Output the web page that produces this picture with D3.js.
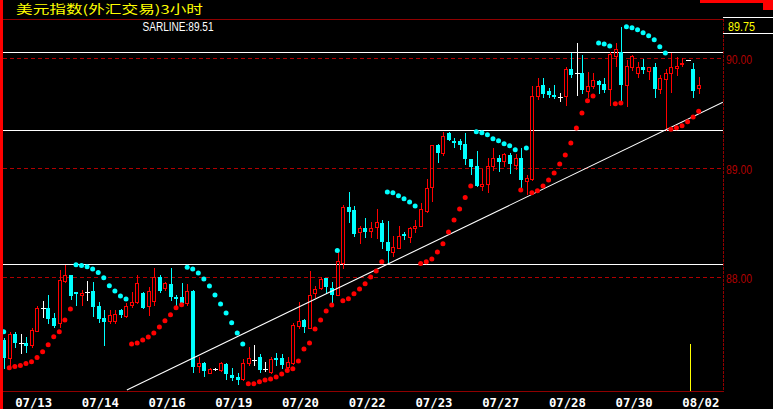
<!DOCTYPE html>
<html><head><meta charset="utf-8">
<script src="https://cdn.jsdelivr.net/npm/d3@7"></script>
<style>html,body{margin:0;padding:0;background:#000;overflow:hidden}</style>
</head><body><svg id="c" width="773" height="409"></svg>
<script>
// ---- data (3-hour bars) ----
const open = [
87.425,87.264,87.480,87.395,87.401,87.380,87.510,87.717,87.717,87.626,
87.580,87.964,88.019,87.863,87.833,87.866,87.873,87.738,87.629,87.598,
87.598,87.699,87.647,87.745,87.774,87.857,87.735,87.784,88.000,87.897,
87.936,87.820,87.820,87.760,87.873,87.191,87.212,87.126,87.160,87.151,
87.206,87.105,87.090,87.069,87.218,87.243,87.273,87.157,87.136,87.258,
87.264,87.182,87.212,87.556,87.608,87.537,87.852,87.897,87.989,87.897,
87.836,88.125,88.637,88.612,88.414,88.445,88.423,88.454,88.491,88.317,
88.231,88.262,88.390,88.368,88.445,88.469,88.606,88.825,89.206,89.130,
89.313,89.242,89.245,89.215,89.078,89.014,88.831,88.847,89.014,89.084,
89.062,89.115,89.023,89.084,88.880,88.892,89.653,89.754,89.699,89.662,
89.647,89.656,89.900,89.860,89.860,89.701,89.744,89.790,89.763,89.714,
90.021,90.052,89.754,89.921,89.866,89.921,89.884,89.921,89.717,89.806,
89.860,89.906,89.945,89.982,89.897,89.724];
const high = [
87.444,87.501,87.498,87.480,87.453,87.535,87.735,87.781,87.836,87.671,
88.064,88.110,88.019,87.863,87.882,87.964,87.957,87.774,87.699,87.699,
87.699,87.708,87.763,87.866,88.019,87.866,87.912,88.083,88.019,87.957,
88.080,87.836,87.946,87.936,87.882,87.273,87.227,87.167,87.165,87.227,
87.218,87.167,87.126,87.249,87.364,87.380,87.297,87.227,87.273,87.304,
87.297,87.273,87.577,87.769,87.614,88.055,87.918,88.003,87.994,87.957,
88.231,88.658,88.774,88.649,88.466,88.536,88.505,88.619,88.521,88.514,
88.375,88.466,88.414,88.459,88.521,88.679,88.895,89.206,89.215,89.327,
89.327,89.267,89.258,89.318,89.078,89.154,88.984,89.084,89.176,89.115,
89.136,89.136,89.124,89.176,88.932,89.744,89.817,89.815,89.724,89.754,
89.678,89.921,90.049,90.140,90.027,89.875,89.860,89.799,89.815,90.058,
90.134,90.280,89.982,90.027,89.967,89.988,89.921,89.957,89.845,89.897,
90.049,90.006,89.997,89.985,89.957,89.824];
const low = [
87.170,87.170,87.361,87.307,87.316,87.361,87.507,87.635,87.580,87.544,
87.544,87.955,87.799,87.745,87.745,87.790,87.644,87.589,87.380,87.580,
87.583,87.638,87.638,87.729,87.763,87.714,87.653,87.745,87.866,87.882,
87.790,87.745,87.745,87.745,87.136,87.136,87.096,87.121,87.155,87.144,
87.069,87.060,87.020,87.060,87.197,87.197,87.136,87.144,87.126,87.197,
87.167,87.167,87.203,87.532,87.501,87.537,87.820,87.891,87.852,87.754,
87.836,88.080,88.505,88.375,88.314,88.368,88.368,88.354,88.262,88.125,
88.192,88.262,88.345,88.323,88.414,88.466,88.597,88.697,89.053,89.115,
89.251,89.190,89.167,89.032,88.941,88.831,88.795,88.779,88.978,88.971,
89.014,88.953,88.984,88.810,88.758,88.886,89.623,89.641,89.647,89.632,
89.607,89.571,89.824,89.662,89.683,89.647,89.724,89.678,89.693,89.571,
89.927,89.601,89.564,89.890,89.824,89.860,89.806,89.647,89.678,89.343,
89.693,89.845,89.927,89.978,89.647,89.678];
const close = [
87.264,87.477,87.398,87.395,87.370,87.517,87.717,87.717,87.617,87.553,
87.973,88.019,87.827,87.845,87.857,87.866,87.729,87.617,87.592,87.653,
87.662,87.653,87.735,87.774,87.943,87.720,87.875,87.998,87.875,87.943,
87.820,87.799,87.760,87.873,87.182,87.215,87.142,87.160,87.160,87.218,
87.115,87.075,87.060,87.212,87.258,87.243,87.151,87.157,87.249,87.243,
87.197,87.221,87.562,87.598,87.546,87.836,87.891,87.982,87.912,87.836,
88.146,88.637,88.597,88.393,88.445,88.414,88.445,88.505,88.323,88.241,
88.271,88.375,88.375,88.450,88.466,88.619,88.810,89.206,89.135,89.288,
89.251,89.227,89.206,89.078,89.008,88.831,88.850,89.017,89.084,89.053,
89.124,89.032,89.084,88.886,88.907,89.653,89.744,89.671,89.662,89.641,
89.647,89.900,89.845,89.860,89.708,89.744,89.799,89.754,89.708,90.034,
90.080,89.754,89.927,90.018,89.921,89.890,89.921,89.717,89.815,89.860,
89.915,89.927,89.957,89.982,89.701,89.754];
const sar = [
87.501,87.172,87.182,87.191,87.209,87.227,87.264,87.318,87.382,87.455,
87.501,87.608,87.708,88.113,88.104,88.094,88.073,88.040,87.994,87.921,
87.873,87.827,87.799,87.388,87.398,87.425,87.453,87.489,87.544,87.601,
87.656,87.720,87.747,88.089,88.073,88.037,87.982,87.918,87.836,87.754,
87.671,87.583,87.489,87.388,87.026,87.026,87.044,87.060,87.069,87.087,
87.115,87.145,87.163,87.233,87.343,87.398,87.526,87.608,87.690,87.745,
88.241,87.784,87.802,87.848,87.891,87.939,88.000,88.055,88.140,88.777,
88.770,88.743,88.715,88.685,88.649,88.124,88.140,88.165,88.229,88.304,
88.411,88.521,88.621,88.725,88.831,89.327,89.318,89.300,89.263,89.245,
89.218,89.199,89.163,88.795,89.178,88.770,88.788,88.831,88.886,88.950,
89.032,89.115,89.224,89.361,89.498,89.610,89.653,90.137,90.128,90.110,
89.583,89.589,90.286,90.277,90.258,90.231,90.204,90.167,90.103,90.046,
89.349,89.364,89.382,89.418,89.461,89.514];
const dateLabels = ["07/13","07/14","07/16","07/19","07/20","07/22","07/23","07/27","07/28","07/30","08/02"];
const gridPrices = [88, 89, 90];
const levelPrices = [90.055, 89.343, 88.119];
const trendLine = [[22.1, 86.968], [129.3, 89.596]];
const titleText = "美元指数(外汇交易)3小时";

// ---- drawing ----
const W = 773, H = 409;
const P = {l: 3, r: 723, t: 19, b: 391};
const RED = "#ff0000", CYAN = "#00ffff", DRED = "#b00000", FRAME = "#900000";
const svg = d3.select("#c");
const x = d3.scaleLinear().domain([0, open.length - 1]).range([4, 699]);
const y = d3.scaleLinear().domain([88, 90]).range([277, 58]);

svg.append("rect").attr("width", W).attr("height", H).attr("fill", "#000");
svg.append("defs").append("clipPath").attr("id", "clip")
  .append("rect").attr("x", P.l).attr("y", P.t).attr("width", P.r - P.l).attr("height", P.b - P.t);

const crisp = svg.append("g").attr("shape-rendering", "crispEdges");
// outer decorations
crisp.append("rect").attr("x", 0).attr("y", 0).attr("width", 3).attr("height", H).attr("fill", RED);
crisp.append("rect").attr("x", 700).attr("y", 0).attr("width", 73).attr("height", 3).attr("fill", RED);
crisp.append("rect").attr("x", 763).attr("y", 0).attr("width", 10).attr("height", 10).attr("fill", RED);
// frame
crisp.append("line").attr("x1", P.l).attr("x2", P.r).attr("y1", P.t + 0.5).attr("y2", P.t + 0.5).attr("stroke", FRAME);
crisp.append("line").attr("x1", P.l).attr("x2", P.r).attr("y1", P.b + 0.5).attr("y2", P.b + 0.5).attr("stroke", FRAME);
crisp.append("line").attr("x1", P.r + 0.5).attr("x2", P.r + 0.5).attr("y1", P.t).attr("y2", P.b + 1)
  .attr("stroke", FRAME).attr("stroke-dasharray", "3,1");

// grid lines + right labels
gridPrices.forEach(p => {
  const yy = Math.round(y(p)) + 0.5;
  crisp.append("line").attr("x1", P.l).attr("x2", P.r).attr("y1", yy).attr("y2", yy)
    .attr("stroke", DRED).attr("stroke-dasharray", "4,3");
  svg.append("text").attr("x", 726).attr("y", yy + 5.5).attr("fill", DRED)
    .attr("font-family", "Liberation Sans, Arial, sans-serif").attr("font-size", 13)
    .attr("textLength", 26).attr("lengthAdjust", "spacingAndGlyphs").text(p.toFixed(2));
});

// last-price box
crisp.append("line").attr("x1", P.r).attr("x2", W).attr("y1", 17.5).attr("y2", 17.5).attr("stroke", "#fff");
crisp.append("line").attr("x1", P.r).attr("x2", W).attr("y1", 33.5).attr("y2", 33.5).attr("stroke", "#fff");
svg.append("text").attr("x", 728).attr("y", 30.5).attr("fill", "#ffff00")
  .attr("font-family", "Liberation Sans, Arial, sans-serif").attr("font-size", 13)
  .attr("textLength", 27).attr("lengthAdjust", "spacingAndGlyphs").text(close[close.length - 1].toFixed(2));

const plot = svg.append("g").attr("clip-path", "url(#clip)");
const pc = plot.append("g").attr("shape-rendering", "crispEdges");

// horizontal white levels
levelPrices.forEach(p => {
  const yy = Math.round(y(p)) + 0.5;
  pc.append("line").attr("x1", P.l).attr("x2", P.r).attr("y1", yy).attr("y2", yy).attr("stroke", "#fff");
});
// trend line
plot.append("line")
  .attr("x1", x(trendLine[0][0])).attr("y1", y(trendLine[0][1]))
  .attr("x2", x(trendLine[1][0])).attr("y2", y(trendLine[1][1]))
  .attr("stroke", "#fff").attr("stroke-width", 1.1);

// candles
function vline(cx, a, b, col) {
  pc.append("line").attr("x1", cx + 0.5).attr("x2", cx + 0.5).attr("y1", a).attr("y2", b + 1).attr("stroke", col);
}
open.forEach((o, i) => {
  const c = close[i];
  const cx = Math.round(x(i));
  const yh = Math.round(y(high[i])), yl = Math.round(y(low[i]));
  const yt = Math.round(y(Math.max(o, c))), yb = Math.round(y(Math.min(o, c)));
  if (c > o) {
    if (yt > yh) vline(cx, yh, yt - 1, RED);
    if (yl > yb) vline(cx, yb + 1, yl, RED);
    pc.append("rect").attr("x", cx - 1.5).attr("y", yt + 0.5).attr("width", 3)
      .attr("height", Math.max(yb - yt, 1)).attr("fill", "none").attr("stroke", RED);
  } else if (c < o) {
    vline(cx, yh, yl, CYAN);
    pc.append("rect").attr("x", cx - 2).attr("y", yt).attr("width", 4)
      .attr("height", Math.max(yb - yt, 1)).attr("fill", CYAN);
  } else {
    vline(cx, yh, yl, "#fff");
    pc.append("line").attr("x1", cx - 2).attr("x2", cx + 3).attr("y1", yt + 0.5).attr("y2", yt + 0.5).attr("stroke", "#fff");
  }
});

// SAR dots
plot.append("g").selectAll("circle").data(sar).join("circle")
  .attr("cx", (d, i) => x(i) - 0.3).attr("cy", d => y(d)).attr("r", 2.5)
  .attr("fill", (d, i) => d > close[i] ? CYAN : RED);

// yellow marker line
crisp.append("line").attr("x1", Math.round(x(123.4)) + 0.5).attr("x2", Math.round(x(123.4)) + 0.5)
  .attr("y1", 344).attr("y2", P.b).attr("stroke", "#ffff00");

// x labels
dateLabels.forEach((t, k) => {
  svg.append("text").attr("x", x(5.33 + 12 * k)).attr("y", 406.5).attr("fill", "#fff")
    .attr("text-anchor", "middle").attr("font-family", "DejaVu Sans Mono, monospace")
    .attr("font-weight", "bold").attr("font-size", 13)
    .attr("textLength", 37).attr("lengthAdjust", "spacingAndGlyphs").text(t);
});

// title & indicator text
svg.append("text").attr("x", 16).attr("y", 13.5).attr("fill", "#ffff00")
  .attr("font-family", "Noto Sans CJK SC, sans-serif").attr("font-size", 12)
  .attr("textLength", 187).attr("lengthAdjust", "spacingAndGlyphs").text(titleText);
svg.append("text").attr("x", 142.5).attr("y", 31).attr("fill", "#fff")
  .attr("font-family", "Liberation Sans, Arial, sans-serif").attr("font-size", 12)
  .attr("textLength", 71).attr("lengthAdjust", "spacingAndGlyphs")
  .text("SARLINE:" + sar[sar.length - 1].toFixed(2));
</script>
</body></html>
